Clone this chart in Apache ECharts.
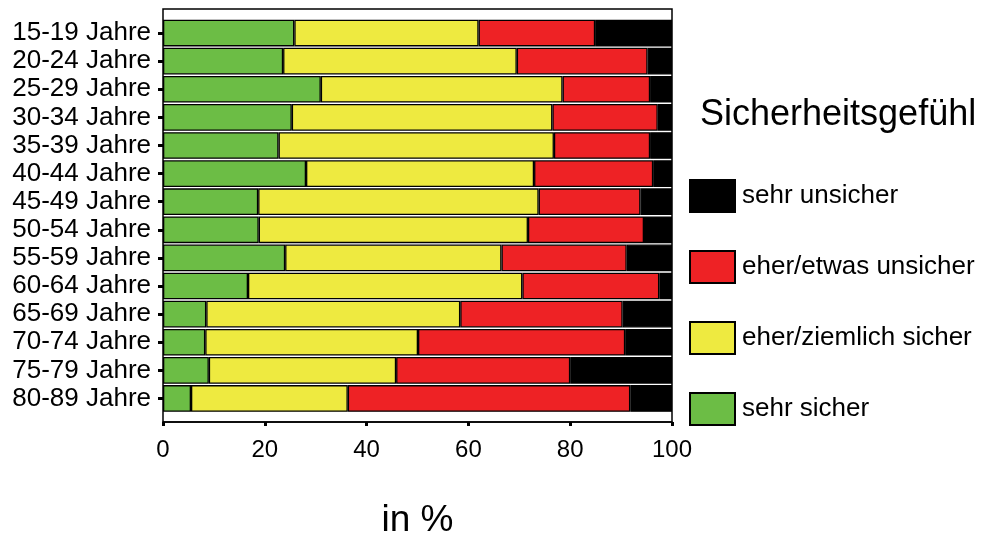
<!DOCTYPE html>
<html>
<head>
<meta charset="utf-8">
<script src="https://cdn.jsdelivr.net/npm/echarts@6/dist/echarts.min.js"></script>
<style>
html,body{margin:0;padding:0;background:#fff;}
#c{width:983px;height:538px;}
</style>
</head>
<body>
<div id="c"></div>
<script>
const categories = ['15-19 Jahre','20-24 Jahre','25-29 Jahre','30-34 Jahre','35-39 Jahre','40-44 Jahre','45-49 Jahre','50-54 Jahre','55-59 Jahre','60-64 Jahre','65-69 Jahre','70-74 Jahre','75-79 Jahre','80-89 Jahre'];
const sehrSicher = [25.8, 23.6, 31.0, 25.3, 22.7, 28.1, 18.7, 18.8, 24.0, 16.7, 8.5, 8.3, 9.0, 5.5];
const eherSicher = [36.2, 45.9, 47.5, 51.2, 54.1, 44.8, 55.1, 52.9, 42.5, 53.9, 49.9, 41.8, 36.8, 30.8];
const eherUnsicher = [22.9, 25.7, 17.2, 20.7, 18.9, 23.4, 20.0, 22.8, 24.6, 26.9, 31.9, 40.7, 34.2, 55.5];
const sehrUnsicher = [15.1, 4.8, 4.3, 2.8, 4.3, 3.7, 6.2, 5.5, 8.9, 2.5, 9.7, 9.2, 20.0, 8.2];
const xTicks = [0, 20, 40, 60, 80, 100];
const seriesNames = ['sehr sicher', 'eher/ziemlich sicher', 'eher/etwas unsicher', 'sehr unsicher'];
const legendOrder = ['sehr unsicher', 'eher/etwas unsicher', 'eher/ziemlich sicher', 'sehr sicher'];
const colors = ['#6cbd45', '#eeea40', '#ee2225', '#000000'];
const values = [sehrSicher, eherSicher, eherUnsicher, sehrUnsicher];

const FONT = '"Liberation Sans", Arial, sans-serif';
const chart = echarts.init(document.getElementById('c'), null, {renderer: 'canvas'});
chart.setOption({
  backgroundColor: '#ffffff',
  animation: false,
  title: {
    text: 'Sicherheitsgefühl',
    left: 700, top: 97, padding: 0,
    textStyle: {fontFamily: FONT, fontSize: 36, fontWeight: 'normal', color: '#000'}
  },
  legend: {
    orient: 'vertical',
    left: 689, top: 179, padding: 0,
    itemWidth: 45, itemHeight: 32, itemGap: 37,
    icon: 'rect',
    data: legendOrder,
    textStyle: {fontFamily: FONT, fontSize: 26, color: '#000', padding: [0, 0, 0, 2]}
  },
  grid: [
    {left: 163, right: 311, top: 9, bottom: 116, outerBoundsMode: 'none', containLabel: false,
     show: true, borderColor: '#000', borderWidth: 1.5, backgroundColor: '#fff'},
    {left: 163, right: 311, top: 19, bottom: 125.5, outerBoundsMode: 'none', containLabel: false}
  ],
  xAxis: [
    {
      gridIndex: 0, type: 'value', min: xTicks[0], max: xTicks[xTicks.length - 1], interval: 20,
      splitLine: {show: false},
      axisLine: {show: true, lineStyle: {color: '#000', width: 1.5}},
      axisTick: {show: true, length: 4, lineStyle: {color: '#000', width: 3}},
      axisLabel: {fontFamily: FONT, fontSize: 24, color: '#000', margin: 16},
      name: 'in %', nameLocation: 'middle', nameGap: 80,
      nameTextStyle: {fontFamily: FONT, fontSize: 37, color: '#000'}
    },
    {
      gridIndex: 1, type: 'value', min: 0, max: 100, show: false, splitLine: {show: false}
    }
  ],
  yAxis: [
    {gridIndex: 0, type: 'value', show: false, splitLine: {show: false}},
    {
      gridIndex: 1, type: 'category', data: categories, inverse: true,
      axisLine: {show: false},
      axisTick: {show: true, alignWithLabel: true, interval: 0, length: 5, lineStyle: {color: '#000', width: 3}},
      axisLabel: {fontFamily: FONT, fontSize: 26, color: '#000', margin: 12, interval: 0}
    }
  ],
  series: seriesNames.map((name, i) => ({
    name: name,
    type: 'bar',
    stack: 'total',
    xAxisIndex: 1,
    yAxisIndex: 1,
    barCategoryGap: '5%',
    data: values[i],
    itemStyle: {color: colors[i], borderColor: '#000', borderWidth: 1.3}
  }))
});
</script>
</body>
</html>
